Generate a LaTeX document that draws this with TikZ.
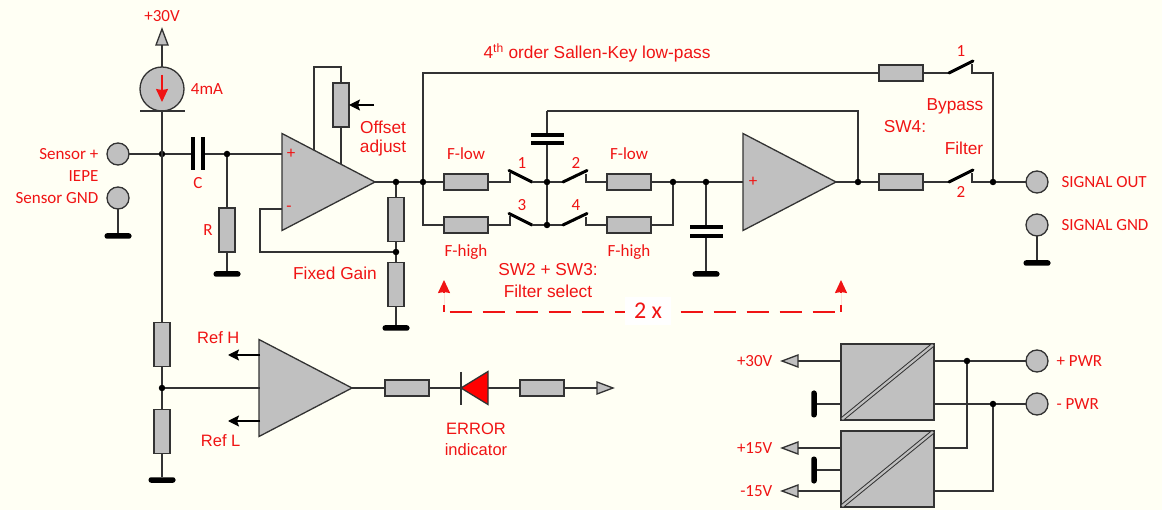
\documentclass[tikz,border=0pt]{standalone}
\usepackage{fontspec}
\setmainfont{Liberation Sans}
\newfontfamily\calib{Carlito}
\usetikzlibrary{shapes.geometric,arrows.meta}
\definecolor{fond}{HTML}{FFFFF4}
\definecolor{gris}{HTML}{C0C0C0}
\definecolor{fil}{HTML}{333333}
\definecolor{rouge}{HTML}{F01414}
\begin{document}
\begin{tikzpicture}[x=1pt,y=-1pt,line width=1.3pt,color=fil]
\tikzset{hres/.style={draw=fil, fill=gris, rectangle, inner sep=0, outer sep=0, minimum width=44, minimum height=16}}
\tikzset{vres/.style={draw=fil, fill=gris, rectangle, inner sep=0, outer sep=0, minimum width=16, minimum height=44}}
\tikzset{borne/.style={draw=fil, fill=gris, circle, inner sep=0, outer sep=0, minimum size=22}}
\tikzset{noeud/.style={draw=none, fill=black, circle, inner sep=0, outer sep=0, minimum size=6.5}}
\tikzset{hmasse/.style={draw=none, fill=black, rectangle, rounded corners=2.5, inner sep=0, outer sep=0, minimum width=27, minimum height=5.5}}
\tikzset{vmasse/.style={draw=none, fill=black, rectangle, rounded corners=2.5, inner sep=0, outer sep=0, minimum width=5.5, minimum height=27}}
\tikzset{hplaque/.style={draw=none, fill=black, rectangle, inner sep=0, outer sep=0, minimum width=33, minimum height=4.5}}
\tikzset{vplaque/.style={draw=none, fill=black, rectangle, inner sep=0, outer sep=0, minimum width=4.5, minimum height=33}}
\tikzset{ampli/.style={draw=fil, fill=gris, isosceles triangle, isosceles triangle stretches, inner sep=0, outer sep=0, minimum width=97, minimum height=93, anchor=apex}}
\tikzset{pointe/.style={draw=fil, fill=gris, isosceles triangle, isosceles triangle stretches, inner sep=0, outer sep=0, minimum width=12, minimum height=16, anchor=apex}}
\tikzset{conv/.style={draw=fil, fill=gris, rectangle, inner sep=0, outer sep=0, minimum width=93, minimum height=76}}
\tikzset{lame/.style={draw=black, line width=3pt, line cap=round}}
\tikzset{diag/.style={draw=fil, double=gris, double distance=2.2pt, line width=1pt, shorten >=1.5pt, shorten <=1.5pt}}
\tikzset{nappe/.style={-{Stealth[length=11pt, width=11pt, inset=2pt]}, draw=black}}
\tikzset{rtip/.style={-{Stealth[length=13pt, width=12pt, inset=1pt]}, draw=rouge, fill=rouge, line width=1.5pt}}
\tikzset{etiq/.style={text=rouge, font=\fontsize{17.3}{19}\selectfont, inner sep=0, draw=none}}
\tikzset{etir/.style={text=rouge, font=\fontsize{16.5}{18}\selectfont, inner sep=0, draw=none}}
\tikzset{etic/.style={text=rouge, font=\calib\fontsize{17}{18}\selectfont, inner sep=0, draw=none}}
\path[fill=fond] (0,0) rectangle (1162,510);
\useasboundingbox (0,0) rectangle (1162,510);

% entree capteur
\node[pointe, shape border rotate=90] (Up) at (162,29) {};
\node[draw=fil, fill=gris, circle, inner sep=0, outer sep=0, minimum size=44] (CS) at (162,89) {};
\node[draw=none, fill=fil, rectangle, inner sep=0, outer sep=0, minimum width=45, minimum height=2] (CSb) at (162,111) {};
\node[borne] (T1) at (118,154) {};
\node[borne] (T2) at (118,198) {};
\node[hmasse] (G1) at (118,236) {};
\node[noeud] (J1) at (162,154) {};
\node[vplaque] (C1a) at (193,154) {};
\node[vplaque] (C1b) at (203,154) {};
\node[noeud] (J2) at (227,154) {};
\node[vres] (R1) at (227,230) {};
\node[hmasse] (G2) at (227,274) {};
\coordinate (I1) at (162,75);
\coordinate (I2) at (162,102);
\draw (Up.lower side) -- (CS);
\draw (CS) -- (CSb);
\draw[rtip] (I1) -- (I2);
\draw (T1) -- (J1);
\draw (T2) -- (G1);
\draw (J1) -- (C1a);
\draw (C1b) -- (J2);
\draw (J2) -- (R1);
\draw (R1) -- (G2);

% premier ampli
\node[ampli] (A1) at (375,182) {};
\node[vres] (P1) at (341,105) {};
\node[noeud] (J3) at (396,182) {};
\node[noeud] (J4) at (423,182) {};
\node[vres] (R2) at (396,219.5) {};
\node[noeud] (J5) at (396,252) {};
\node[vres] (R3) at (396,284.5) {};
\node[hmasse] (G3) at (396,328) {};
\coordinate (A1p) at (282,154);
\coordinate (A1m) at (282,209);
\coordinate (A1f) at (314,150);
\coordinate (A1o) at (341,164);
\coordinate (Fb) at (341,67);
\coordinate (Fm) at (260,252);
\coordinate (Pin) at (374,105);
\draw (J2) -- (A1p);
\draw (A1f) |- (Fb) -- (P1);
\draw (P1) -- (A1o);
\draw[nappe] (Pin) -- (P1);
\draw (A1.apex) -- (J3);
\draw (J3) -- (J4);
\draw (J3) -- (R2);
\draw (R2) -- (J5);
\draw (J5) -- (R3);
\draw (R3) -- (G3);
\draw (A1m) -| (Fm) -- (J5);

% filtre
\node[hres] (R4) at (466,182) {};
\node[hres] (R5) at (466,225) {};
\node[noeud] (J6) at (547,182) {};
\node[noeud] (J7) at (547,225) {};
\node[hplaque] (C2a) at (547,135) {};
\node[hplaque] (C2b) at (547,143) {};
\node[hres] (R6) at (629,182) {};
\node[hres] (R7) at (629,225) {};
\node[noeud] (J8) at (673,182) {};
\node[noeud] (J9) at (706,182) {};
\node[hplaque] (C3a) at (706,227) {};
\node[hplaque] (C3b) at (706,236) {};
\node[hmasse] (G4) at (706,274) {};
\node[ampli] (A2) at (836,182) {};
\node[noeud] (J10) at (858,182) {};
\coordinate (A2p) at (743,182);
\coordinate (Top) at (547,111);
% contacts 1 a 4
\coordinate (S1w) at (510,182);
\coordinate (S1t) at (510,173);
\coordinate (S1a) at (509,170.5);
\coordinate (S1b) at (532,182);
\coordinate (S2a) at (563,182);
\coordinate (S2b) at (587,170.5);
\coordinate (S2t) at (586,174);
\coordinate (S2w) at (586,182);
\coordinate (S3w) at (510,225);
\coordinate (S3t) at (510,216);
\coordinate (S3a) at (509,213.5);
\coordinate (S3b) at (532,225);
\coordinate (S4a) at (563,225);
\coordinate (S4b) at (587,213.5);
\coordinate (S4t) at (586,217);
\coordinate (S4w) at (586,225);
\draw (J4) -- (R4);
\draw (J4) |- (R5);
\draw (R4) -- (S1w) -- (S1t);
\draw[lame] (S1a) -- (S1b);
\draw (S1b) -- (J6);
\draw (J6) -- (S2a);
\draw[lame] (S2a) -- (S2b);
\draw (S2t) -- (S2w) -- (R6);
\draw (R5) -- (S3w) -- (S3t);
\draw[lame] (S3a) -- (S3b);
\draw (S3b) -- (J7);
\draw (J7) -- (S4a);
\draw[lame] (S4a) -- (S4b);
\draw (S4t) -- (S4w) -- (R7);
\draw (J6) -- (J7);
\draw (J6) -- (C2b);
\draw (C2a) -- (Top);
\draw (Top) -| (J10);
\draw (R6) -- (J8);
\draw (R7) -| (J8);
\draw (J8) -- (J9);
\draw (J9) -- (A2p);
\draw (J9) -- (C3a);
\draw (C3b) -- (G4);
\draw (A2.apex) -- (J10);

% sortie
\node[hres] (R8) at (901,73) {};
\node[hres] (R9) at (901,182) {};
\node[noeud] (J11) at (993,182) {};
\node[borne] (T3) at (1037,182) {};
\node[borne] (T4) at (1037,225) {};
\node[hmasse] (G5) at (1037,263) {};
\coordinate (S5w) at (949,73);
\coordinate (S5b) at (973,61);
\coordinate (S5t) at (972,64.5);
\coordinate (S5o) at (972,73);
\coordinate (S6w) at (949,182);
\coordinate (S6b) at (973,170);
\coordinate (S6t) at (972,173.5);
\coordinate (S6o) at (972,182);
\draw (J4) |- (R8);
\draw (R8) -- (S5w);
\draw[lame] (S5w) -- (S5b);
\draw (S5t) -- (S5o) -| (J11);
\draw (J10) -- (R9);
\draw (R9) -- (S6w);
\draw[lame] (S6w) -- (S6b);
\draw (S6t) -- (S6o) -- (J11);
\draw (J11) -- (T3);
\draw (T4) -- (G5);

% comparateur et diode
\node[vres] (R10) at (162,344.5) {};
\node[noeud] (J12) at (162,388) {};
\node[vres] (R11) at (162,431.5) {};
\node[hmasse] (G6) at (162,480) {};
\node[ampli] (A3) at (352,388) {};
\node[hres] (R12) at (407,388) {};
\node[draw=fil, fill=red, isosceles triangle, isosceles triangle stretches, inner sep=0, outer sep=0, minimum width=33, minimum height=27, shape border rotate=180, anchor=apex] (D1) at (461,388) {};
\node[hres] (R13) at (542,388) {};
\node[pointe, shape border rotate=0] (Ou) at (613,388) {};
\coordinate (D1a) at (461,372);
\coordinate (D1b) at (461,405);
\coordinate (A3i) at (260,388);
\coordinate (A3h) at (260,355);
\coordinate (A3l) at (260,421);
\coordinate (Rh) at (228,355);
\coordinate (Rl) at (228,421);
\draw (CSb) -- (R10);
\draw (R10) -- (J12);
\draw (J12) -- (R11);
\draw (R11) -- (G6);
\draw (J12) -- (A3i);
\draw[nappe] (A3h) -- (Rh);
\draw[nappe] (A3l) -- (Rl);
\draw (A3.apex) -- (R12);
\draw (R12) -- (D1.apex);
\draw (D1a) -- (D1b);
\draw (D1.lower side) -- (R13);
\draw (R13) -- (Ou.lower side);

% alimentations
\node[conv] (B1) at (887.5,382) {};
\node[conv] (B2) at (887.5,469) {};
\node[pointe, shape border rotate=180] (V1) at (782,361) {};
\node[pointe, shape border rotate=180] (V2) at (782,448) {};
\node[pointe, shape border rotate=180] (V3) at (782,491) {};
\node[vmasse] (G7) at (814,404) {};
\node[vmasse] (G8) at (814,470) {};
\node[noeud] (J13) at (967,361) {};
\node[noeud] (J14) at (993,404) {};
\node[borne] (T5) at (1037,361) {};
\node[borne] (T6) at (1037,404) {};
\coordinate (B1a) at (841,361);
\coordinate (B1b) at (841,404);
\coordinate (B1c) at (934,361);
\coordinate (B1d) at (934,404);
\coordinate (B2a) at (841,448);
\coordinate (B2b) at (841,470);
\coordinate (B2c) at (841,491);
\coordinate (B2d) at (934,448);
\coordinate (B2e) at (934,491);
\draw[diag] (B1.south west) -- (B1.north east);
\draw[diag] (B2.south west) -- (B2.north east);
\draw (B1a) -- (V1.lower side);
\draw (B1b) -- (G7);
\draw (B2a) -- (V2.lower side);
\draw (B2b) -- (G8);
\draw (B2c) -- (V3.lower side);
\draw (B1c) -- (J13);
\draw (J13) -- (T5);
\draw (B1d) -- (J14);
\draw (J14) -- (T6);
\draw (B2d) -| (J13);
\draw (B2e) -| (J14);

% repere rouge
\coordinate (D1s) at (444,312);
\coordinate (D1e) at (444,280);
\coordinate (D2s) at (841,312);
\coordinate (D2e) at (841,280);
\coordinate (D3s) at (449.5,312);
\coordinate (D3e) at (836,312);
\draw[rtip, dash pattern=on 7pt off 12pt on 20pt] (D1s) -- (D1e);
\draw[rtip, dash pattern=on 7pt off 12pt on 20pt] (D2s) -- (D2e);
\draw[draw=rouge, line width=1.3pt, dash pattern=on 22pt off 11pt] (D3s) -- (D3e);
\node[fill=white, draw=none, text=rouge, font=\calib\fontsize{24}{26}\selectfont, minimum width=46, minimum height=28, inner sep=0] (Nx) at (648,311) {2 x};

% textes
\node[etic] (Lp30) at (162,16) {+30V};
\node[etic] (L4mA) at (207,89) {4mA};
\node[etic, anchor=east] (Ls1) at (99,154) {Sensor +};
\node[etic, anchor=east] (Ls2) at (99,176) {IEPE};
\node[etic, anchor=east] (Ls3) at (99,198) {Sensor GND};
\node[etic] (Lc) at (198,183) {C};
\node[etic] (Lr) at (208,230) {R};
\node[etiq] (Lo1) at (383,127) {Offset};
\node[etiq] (Lo2) at (383,148) {adjust};
\node[etiq] (Lg) at (335,273) {Fixed Gain};
\node[etiq] (Lso) at (597,53) {4\textsuperscript{th} order Sallen-Key low-pass};
\node[etic] (Lf1) at (466,154) {F-low};
\node[etic] (Lf2) at (466,252) {F-high};
\node[etic] (Lf3) at (629,154) {F-low};
\node[etic] (Lf4) at (629,252) {F-high};
\node[etic] (Ln1) at (522,163) {1};
\node[etic] (Ln2) at (576,163) {2};
\node[etic] (Ln3) at (522,205) {3};
\node[etic] (Ln4) at (576,205) {4};
\node[etiq] (Lw1) at (548,270) {SW2 + SW3:};
\node[etiq] (Lw2) at (548,291) {Filter select};
\node[etic] (Ln5) at (961,51) {1};
\node[etic] (Ln6) at (961,192) {2};
\node[etiq] (Lb) at (955,106) {Bypass};
\node[etiq] (Lw4) at (905,127) {SW4:};
\node[etiq] (Lfi) at (964,148) {Filter};
\node[etic, anchor=west] (Lo) at (1061,182) {SIGNAL OUT};
\node[etic, anchor=west] (Lgn) at (1061,225) {SIGNAL GND};
\node[etir, anchor=east] (Lh) at (240,338) {Ref H};
\node[etir, anchor=east] (Ll) at (241,441) {Ref L};
\node[etir] (Le1) at (476,429) {ERROR};
\node[etir] (Le2) at (476,450) {indicator};
\node[etic, anchor=east] (Lv1) at (773,361) {+30V};
\node[etic, anchor=east] (Lv2) at (773,448) {+15V};
\node[etic, anchor=east] (Lv3) at (773,491) {-15V};
\node[etic, anchor=west] (Lp) at (1056,361) {+ PWR};
\node[etic, anchor=west] (Lm) at (1056,404) {- PWR};
\node[etic] (Lp1) at (291,154) {+};
\node[etic] (Lm1) at (289,209) {-};
\node[etic] (Lp2) at (753,182) {+};
\end{tikzpicture}
\end{document}
